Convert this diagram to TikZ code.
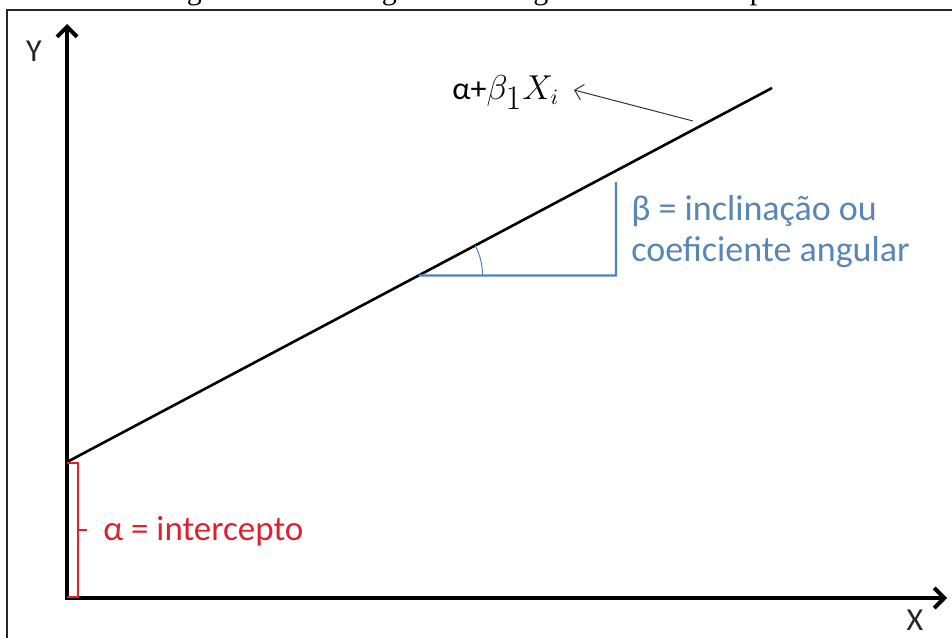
\documentclass[tikz,border=0pt]{standalone}
\usepackage{fontspec}
\setmainfont{Carlito}
\newfontfamily\capfont{Liberation Serif}
\usetikzlibrary{arrows.meta,calc}
\definecolor{lineblue}{RGB}{79,129,189}
\definecolor{textblue}{RGB}{88,134,184}
\definecolor{alphared}{RGB}{222,32,48}
\tikzset{
  frame/.style={draw=black!85, line width=0.8pt},
  axis/.style={line width=2pt, black, {Straight Barb[length=5pt,width=10pt]}-{Straight Barb[length=5pt,width=10pt]}},
  regline/.style={line width=1.3pt, black},
  blueline/.style={line width=1.1pt, lineblue},
  bluethin/.style={line width=0.5pt, lineblue},
  redline/.style={line width=0.8pt, alphared},
  pointer/.style={line width=0.5pt, black!80, -{Straight Barb[length=4pt,width=8pt]}},
  axlabel/.style={font=\fontsize{16}{19}\selectfont, text=black!85, inner sep=0pt},
  bluetext/.style={font=\fontsize{18}{20.5}\selectfont, text=textblue, inner sep=0pt, align=left},
  redtext/.style={font=\fontsize{17.5}{20}\selectfont, text=alphared, inner sep=0pt},
  eqtext/.style={font=\fontsize{16}{19}\selectfont, inner sep=0pt},
  captext/.style={font=\capfont\fontsize{15}{17}\selectfont, inner sep=0pt}
}
\begin{document}
\begin{tikzpicture}[x=0.5pt,y=-0.5pt]
\useasboundingbox (0,0) rectangle (952,637);
% frame (partly outside the page)
\draw[frame] (7,10) rectangle (980,670);
% caption, cut off at the top
\node[captext, anchor=base] (caption) at (480,-0.8) {Figura 3: Modelo gráfico de regressão linear simples};
% axes
\coordinate (O) at (67,598);
\coordinate (Ytop) at (67,24);
\coordinate (Xend) at (947,598);
\draw[axis] (Ytop) -- (O) -- (Xend);
\node[axlabel] (ylab) at (34,51) {Y};
\node[axlabel] (xlab) at (915,620) {X};
% regression line
\coordinate (A) at (67,462);
\coordinate (B) at (772,88);
\draw[regline] (A) -- (B);
% slope triangle
\coordinate (C) at ($(A)!0.4987!(B)$);
\coordinate (D) at (616,275.5);
\coordinate (E) at (616,182);
\draw[blueline] (C) -- (D) -- (E);
\draw[bluethin] ($(C)+(64,0)$) arc[start angle=0, end angle=-28, radius=64];
\node[bluetext, anchor=base west] (beta) at (631,261) {β = inclinação ou\\coeficiente angular};
% intercept bracket
\coordinate (R1) at (67,463);
\coordinate (R2) at (78,463);
\coordinate (R3) at (78,597);
\coordinate (R4) at (67,597);
\coordinate (Rm) at (78,530);
\coordinate (Rt) at (87,530);
\draw[redline] (R1) -- (R2) -- (R3) -- (R4);
\draw[redline] (Rm) -- (Rt);
\node[redtext, anchor=base west] (alpha) at (103,540) {α = intercepto};
% equation label with pointer
\node[eqtext, anchor=base west] (eq) at (452,99) {α+$\beta_{\textstyle 1}X_{i}$};
\coordinate (arrS) at (693,121);
\coordinate (arrT) at (574,90);
\draw[pointer] (arrS) -- (arrT);
\end{tikzpicture}
\end{document}
